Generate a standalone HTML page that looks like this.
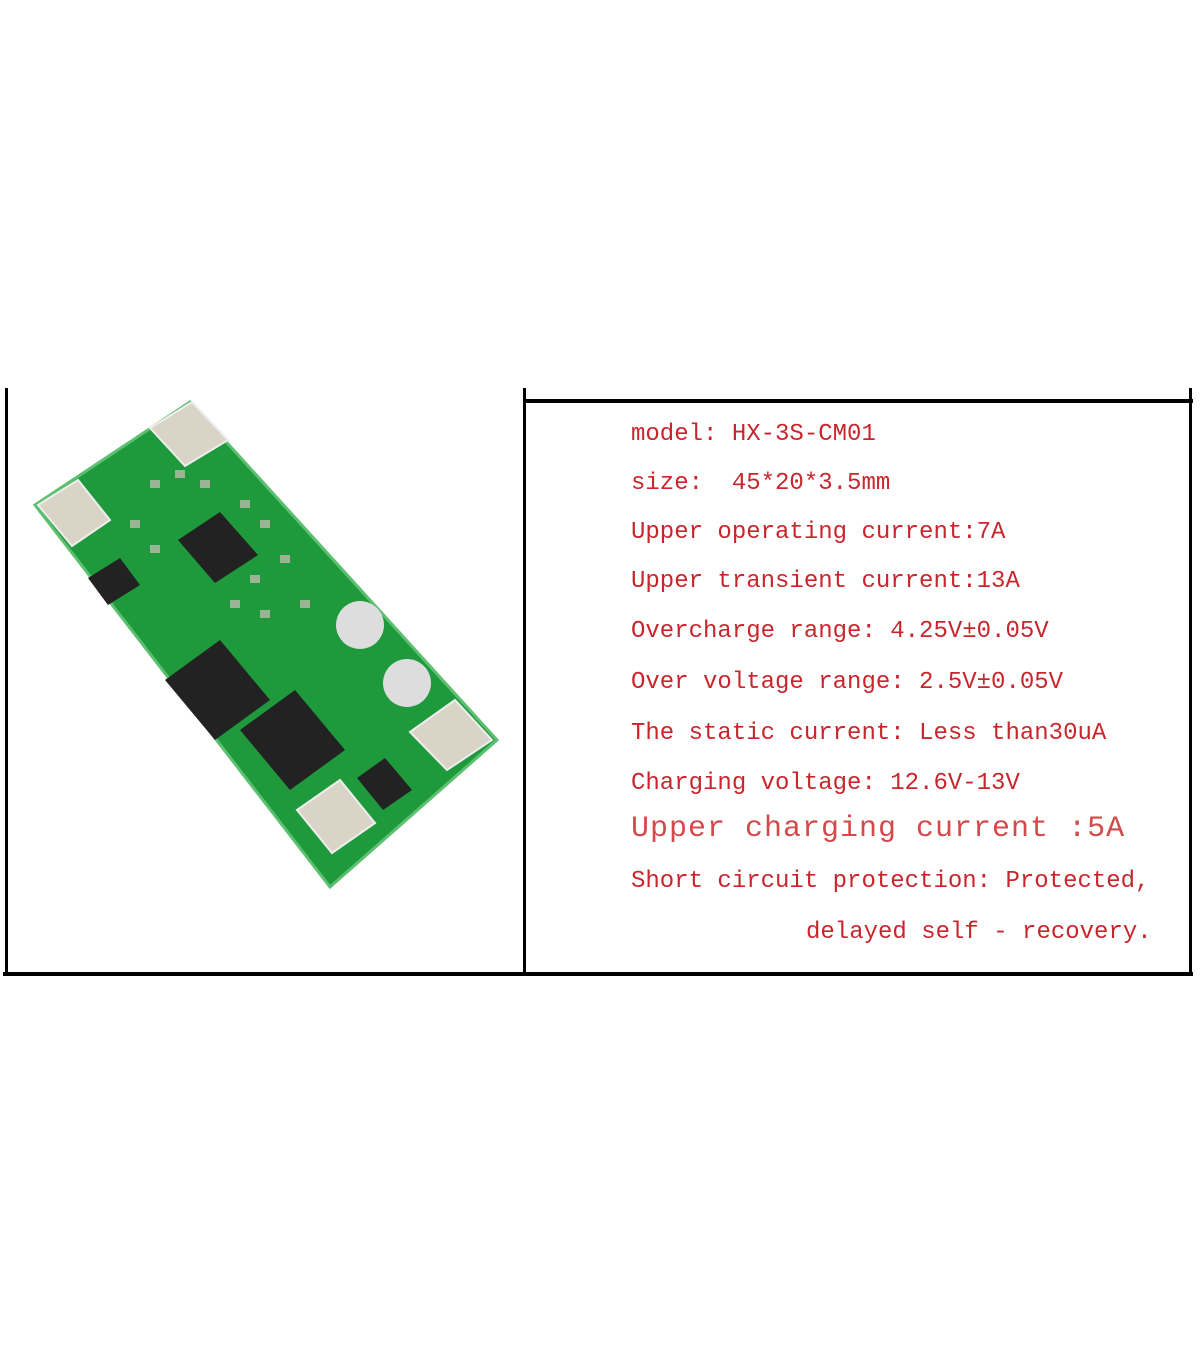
<!DOCTYPE html>
<html><head><meta charset="utf-8"><style>
body{margin:0;width:1200px;height:1372px;background:#fff;position:relative;overflow:hidden}
.l{position:absolute;background:#000}
.t{position:absolute;left:631px;font-family:"Liberation Mono","Noto Serif CJK SC",monospace;font-size:24px;color:#c8262c;white-space:pre;line-height:1}
</style></head><body>
<div class="l" style="left:5px;top:388px;width:3px;height:588px"></div>
<div class="l" style="left:523px;top:388px;width:3px;height:588px"></div>
<div class="l" style="left:523px;top:399px;width:670px;height:4px"></div>
<div class="l" style="left:1189px;top:388px;width:3px;height:588px"></div>
<div class="l" style="left:3px;top:972px;width:1190px;height:4px"></div>
<svg style="position:absolute;left:0;top:0" width="1200" height="1372">
<polygon points="35,505 190,402 497,740 330,887" fill="#1e9a3c"/>
<polygon points="35,505 190,402 497,740 330,887" fill="none" stroke="#5cc070" stroke-width="3"/>
<g fill="#d9d4c6" stroke="#eee" stroke-width="2">
<polygon points="150,428 192,402 228,440 185,466"/>
<polygon points="38,505 78,480 110,520 72,546"/>
<polygon points="410,732 455,700 492,740 447,770"/>
<polygon points="297,810 340,780 375,823 332,853"/>
</g>
<g fill="#ddd"><circle cx="360" cy="625" r="24"/><circle cx="407" cy="683" r="24"/></g>
<g fill="#222">
<polygon points="178,540 220,512 258,555 215,583"/>
<polygon points="165,680 220,640 270,700 215,740"/>
<polygon points="240,730 295,690 345,750 290,790"/>
<polygon points="357,778 385,758 412,790 383,810"/>
<polygon points="88,578 120,558 140,585 108,605"/>
</g>
<g fill="#bba" opacity=".8">
<rect x="150" y="480" width="10" height="8"/><rect x="175" y="470" width="10" height="8"/><rect x="200" y="480" width="10" height="8"/>
<rect x="240" y="500" width="10" height="8"/><rect x="260" y="520" width="10" height="8"/><rect x="130" y="520" width="10" height="8"/>
<rect x="150" y="545" width="10" height="8"/><rect x="250" y="575" width="10" height="8"/><rect x="280" y="555" width="10" height="8"/>
<rect x="230" y="600" width="10" height="8"/><rect x="260" y="610" width="10" height="8"/><rect x="300" y="600" width="10" height="8"/>
</g>
</svg>
<div class="t" style="top:423px">model: HX-3S-CM01</div>
<div class="t" style="top:472px">size:  45*20*3.5mm</div>
<div class="t" style="top:521px">Upper operating current:7A</div>
<div class="t" style="top:570px">Upper transient current:13A</div>
<div class="t" style="top:620px">Overcharge range: 4.25V±0.05V</div>
<div class="t" style="top:671px">Over voltage range: 2.5V±0.05V</div>
<div class="t" style="top:722px">The static current: Less than30uA</div>
<div class="t" style="top:772px">Charging voltage: 12.6V-13V</div>
<div class="t" style="top:814px;font-size:30px;letter-spacing:1px;color:#d44a4a">Upper charging current :5A</div>
<div class="t" style="top:870px">Short circuit protection: Protected,</div>
<div class="t" style="top:921px;left:806px">delayed self - recovery.</div>
</body></html>
